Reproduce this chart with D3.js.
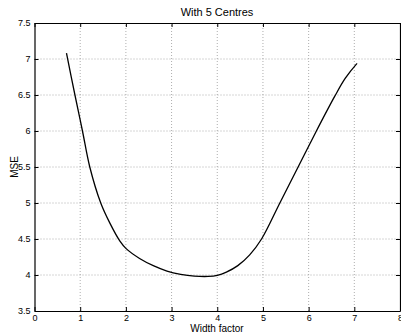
<!DOCTYPE html>
<html>
<head>
<meta charset="utf-8">
<script src="https://cdn.jsdelivr.net/npm/d3@7"></script>
<style>
  html, body { margin: 0; padding: 0; background: #fff; }
  svg { display: block; }
  text { font-family: "Liberation Sans", Arial, Helvetica, sans-serif; fill: #000; }
</style>
</head>
<body>
<script>
// MSE as a function of the basis width factor, network with 5 centres
const widthFactor = [0.7, 0.885, 1.05, 1.21, 1.45, 1.65, 1.87, 2.0, 2.3, 2.6, 2.9, 3.2, 3.5, 3.8, 4.0, 4.2, 4.45, 4.71, 4.97, 5.37, 5.77, 6.17, 6.57, 6.8, 7.06];
const mse         = [7.08, 6.5, 6.0, 5.5, 5.0, 4.72, 4.47, 4.37, 4.23, 4.13, 4.055, 4.01, 3.985, 3.98, 3.995, 4.04, 4.13, 4.28, 4.5, 5.0, 5.5, 6.0, 6.48, 6.73, 6.94];
const xTicks = [0, 1, 2, 3, 4, 5, 6, 7, 8];
const yTicks = [3.5, 4, 4.5, 5, 5.5, 6, 6.5, 7, 7.5];

const W = 401, H = 335;
const margin = { left: 34.5, right: 1, top: 23, bottom: 24 };

const svg = d3.select("body").append("svg").attr("width", W).attr("height", H);

const x = d3.scaleLinear().domain([0, 8]).range([margin.left, W - margin.right]);
const y = d3.scaleLinear().domain([3.5, 7.5]).range([H - margin.bottom, margin.top]);

// dotted grid
const grid = svg.append("g").attr("stroke", "#999").attr("stroke-width", 0.8).attr("stroke-dasharray", "1,2");
grid.selectAll("line.gx").data(xTicks.slice(1, -1)).join("line")
  .attr("x1", d => x(d)).attr("x2", d => x(d))
  .attr("y1", y(3.5)).attr("y2", y(7.5));
grid.selectAll("line.gy").data(yTicks.slice(1, -1)).join("line")
  .attr("y1", d => y(d)).attr("y2", d => y(d))
  .attr("x1", x(0)).attr("x2", x(8));

// axes with inward ticks
const tickLen = 4;
const fmt = d => String(d);
const axBottom = svg.append("g").attr("transform", `translate(0,${y(3.5)})`)
  .call(d3.axisBottom(x).tickValues(xTicks).tickSizeInner(-tickLen).tickSizeOuter(0).tickPadding(6).tickFormat(fmt));
const axTop = svg.append("g").attr("transform", `translate(0,${y(7.5)})`)
  .call(d3.axisTop(x).tickValues(xTicks).tickSizeInner(-tickLen).tickSizeOuter(0).tickFormat(""));
const axLeft = svg.append("g").attr("transform", `translate(${x(0)},0)`)
  .call(d3.axisLeft(y).tickValues(yTicks).tickSizeInner(-tickLen).tickSizeOuter(0).tickPadding(4).tickFormat(fmt));
const axRight = svg.append("g").attr("transform", `translate(${x(8)},0)`)
  .call(d3.axisRight(y).tickValues(yTicks).tickSizeInner(-tickLen).tickSizeOuter(0).tickFormat(""));

[axBottom, axTop, axLeft, axRight].forEach(g => {
  g.select(".domain").attr("stroke", "#000").attr("stroke-width", 1.2);
  g.selectAll(".tick line").attr("stroke", "#000");
  g.selectAll("text").attr("font-size", 9).attr("font-family", "Liberation Sans, Arial, sans-serif").attr("fill", "#000");
});
axBottom.selectAll(".tick text").attr("dy", "0.45em");
axLeft.selectAll(".tick text").attr("dy", "0.32em");

// curve
svg.append("path")
  .datum(widthFactor.map((v, i) => [v, mse[i]]))
  .attr("fill", "none")
  .attr("stroke", "#000")
  .attr("stroke-width", 1.3)
  .attr("d", d3.line().x(d => x(d[0])).y(d => y(d[1])).curve(d3.curveCatmullRom.alpha(0.5)));

// titles
svg.append("text").attr("x", 217).attr("y", 16).attr("text-anchor", "middle")
  .attr("font-size", 11).text("With 5 Centres");
svg.append("text").attr("x", 217).attr("y", 332).attr("text-anchor", "middle")
  .attr("font-size", 10).text("Width factor");
svg.append("text").attr("transform", `translate(18,${(y(3.5) + y(7.5)) / 2}) rotate(-90)`)
  .attr("text-anchor", "middle").attr("font-size", 10).text("MSE");
</script>
</body>
</html>
